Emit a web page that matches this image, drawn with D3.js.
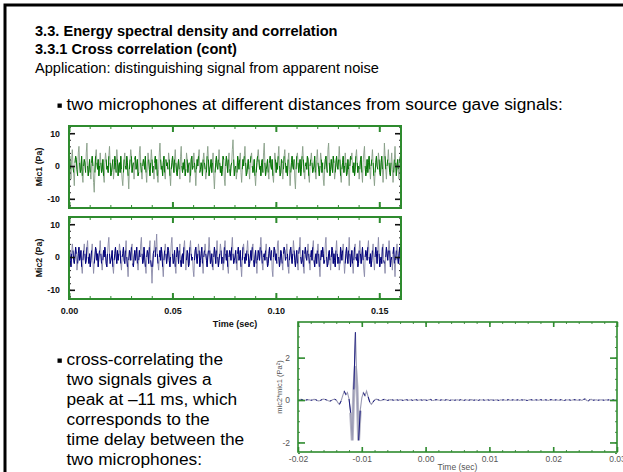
<!DOCTYPE html>
<html><head><meta charset="utf-8">
<script src="https://cdnjs.cloudflare.com/ajax/libs/d3/7.8.5/d3.min.js"></script>
<style>body{margin:0;background:#fff}svg{display:block}</style>
</head><body><svg id="c" width="623" height="472"></svg>
<script>
// ---- data ----
const mic1 = [
1,3,-1,-4,2,5,0,-2,-6,1,3,2,-1,-3,4,6,1,-2,-1,3,-3,-5,0,2,1,
-2,4,7,0,-3,-1,2,-2,-4,1,3,0,-5,-8,-2,3,5,1,-1,2,-3,0,4,1,-2,
-1,2,-3,-5,1,4,2,-1,0,-2,3,6,1,-3,-2,0,2,-4,-1,3,1,-2,5,2,-3,
0,1,-2,3,-1,-4,-6,-2,2,4,0,-1,3,1,-3,-7,-1,2,5,3,-2,0,1,-4,2,
3,-1,0,2,-3,-2,4,6,1,-2,-4,0,2,1,-1,3,-2,-5,0,4,2,-1,-3,1,5,
2,-2,0,-4,1,3,-1,2,-3,-5,-1,4,7,2,-1,0,-3,1,3,-2,-4,2,0,1,-1,
4,2,-3,-6,-1,1,3,0,-2,2,5,1,-2,-3,0,2,-1,-4,3,6,0,-2,1,-1,2,
-3,-1,4,2,-2,0,1,-5,-3,2,3,-1,0,4,1,-2,-6,-1,2,0,3,5,-2,-1,1,
0,-3,2,4,1,-1,-4,-2,3,6,2,-3,-1,0,2,-2,1,4,-3,-7,-2,1,3,0,-1,
2,5,1,-2,0,-3,-1,3,2,-4,-6,0,3,1,-2,2,4,-1,-3,0,1,5,8,2,-3,
-1,0,-4,-2,3,1,-1,2,4,-2,-5,-1,2,0,3,6,1,-3,-2,0,2,-1,-4,1,3,
4,0,-2,-1,2,-3,-6,-2,1,3,5,2,-1,0,-3,1,2,-2,4,7,1,-3,-1,0,2,
-2,-4,1,3,0,-1,2,-3,-5,0,4,2,-2,1,-1,3,6,0,-3,-2,2,1,-4,-1,3,
5,1,-2,0,-3,2,4,-1,-6,-2,1,3,0,-1,2,-4,-7,-1,3,4,1,-2,0,2,-3,
-1,3,6,2,-2,-4,0,1,-1,3,2,-3,-5,0,2,4,1,-2,-1,0,3,-2,-4,2,5,
1,-1,-3,0,4,2,-2,1,-4,-6,-1,2,3,0,-2,5,7,1,-3,-1,2,0,-2,3,1,
-4,-2,1,3,0,-1,2,6,2,-3,-5,-1,1,3,-2,0,4,1,-3,-2,2,-1,-6,0,3,
2,4,0,-2,1,-3,-1,3,5,1,-2,0,-4,-1,2,3,-2,-5,1,4,6,0,-3,-1,2,
-2,1,3,-1,-4,0,2,5,1,-3,-6,-2,1,3,0,-1,4,2,-2,-3,1,3,-1,-5,0,
7,3,-1,-4,0,2,5,1,-2,-3,1,4,-1,-5,-2,2,6,1,-3,0,2,-1,-4,1,3
];
const mic2 = [
0,2,-1,-3,1,4,2,-1,-2,0,3,1,-4,-2,1,3,-1,0,2,-3,-5,-1,2,4,1,
-2,-1,3,5,0,-2,1,-3,-1,2,4,-1,-5,-2,0,3,2,-1,1,-3,0,2,5,1,-2,
-4,-1,2,0,3,1,-2,-3,1,4,6,1,-2,-1,0,2,-3,-5,-1,1,3,0,-2,2,-1,
1,4,2,-2,-4,0,1,3,-1,-2,2,5,0,-3,-6,-1,2,1,-1,3,4,-2,-3,0,2,
-1,1,3,-2,-4,-1,2,0,4,6,1,-2,-1,3,0,-3,-5,0,2,1,-2,3,5,-1,-3,
-8,-3,1,2,5,0,3,7,1,-2,-4,0,2,-1,3,1,-3,-6,-1,2,4,1,-2,0,3,
2,-1,-3,0,4,6,1,-2,-1,2,-3,-5,0,3,1,-2,2,4,-1,-3,0,1,-2,3,5,
0,-4,-1,2,1,-3,-2,3,5,1,-1,0,-4,-6,-1,2,3,0,-2,1,4,2,-3,-1,1,
3,-2,-5,0,2,4,1,-1,-3,0,2,6,2,-2,-1,1,-3,-4,0,3,1,-2,2,5,0,
-3,-1,1,4,2,-2,0,-4,-2,3,5,1,-1,2,-3,-5,0,2,1,-1,3,6,1,-2,-1,
0,2,-2,-4,1,3,-1,0,2,-3,-6,-1,3,4,0,-2,1,-1,2,5,1,-3,-2,0,2,
-1,3,4,-1,-3,0,2,-2,-5,-1,2,1,-1,3,6,2,-2,-4,0,1,-1,2,4,0,-3,
-2,1,3,0,-1,2,-4,-6,0,3,2,-1,1,-2,4,5,0,-3,-1,2,1,-2,-4,1,3,
2,-1,0,4,1,-3,-5,-1,2,3,0,-2,1,5,2,-1,-3,0,2,-2,-4,1,3,6,0,
-2,-1,2,-3,-5,1,3,0,-1,2,4,1,-2,-4,0,2,-1,3,5,-1,-3,0,1,-2,2,
4,1,-3,-6,-1,2,0,3,1,-2,-1,4,6,0,-3,-2,1,2,-1,-4,0,3,2,-2,1,
-1,-3,2,5,1,-2,0,-4,-2,3,1,-1,2,4,-1,-5,-2,1,3,0,-2,2,6,1,-3,
0,2,-2,-5,-1,3,4,0,-1,1,-3,-2,2,5,1,-2,0,3,-1,-4,-6,0,2,1,-1,
3,5,0,-2,1,-3,-1,2,4,-1,-4,0,3,1,-2,2,6,1,-3,-1,0,-2,3,4,-1,
-2,-5,0,3,1,-1,2,5,2,-3,-1,0,-4,1,3,-2,-6,-1,2,4,0,-2,1,3,-2
];
const micSampleInterval = 0.000321;   // seconds between samples
const micTimeMax = 0.1605;
const micXTicks = [0, 0.05, 0.10, 0.15];
const micXTickLabels = ["0.00", "0.05", "0.10", "0.15"];
const micYTicks = [10, 0, -10];
const micYTickLabels = ["10", "0", "-10"];

const corr = [
0,0.02,0.03,0.01,-0.02,0,0.02,0.01,-0.01,0,0.03,0.02,-0.02,-0.04,-0.02,0.02,0.05,0.03,0,-0.03,-0.05,-0.02,0.03,0.04,
0,-0.12,-0.2,-0.05,0.2,0.42,0.25,0.35,0.05,-0.6,-1.9,0.5,3.2,0.6,-1.9,-0.5,0.1,0.35,0.2,0.42,0.15,-0.1,-0.2,-0.1,0,
0.04,0.02,-0.01,-0.03,0.01,0.03,0.01,-0.02,0,0.02,
0.01,-0.01,0,0.01,-0.01,0.02,0,-0.02,0.01,0.02,
-0.01,0,0.01,-0.02,0.01,0.02,-0.01,0,0.01,-0.01,
0.02,0,-0.02,0.01,0.03,-0.01,-0.02,0.01,0.02,0,
-0.01,0.01,0,-0.01,0.02,0.01,-0.02,0,0.01,-0.01,
0,0.01,-0.01,0.02,0,-0.02,0.01,0,-0.01,0.01,
0.02,-0.01,0,0.01,-0.02,0.01,0,0.01,-0.01,0,
0.01,-0.01,0.02,0,-0.01,0.01,0,-0.02,0.01,0,
0.01,-0.01,0,0.02,-0.01,0,0.01,-0.01,0,0.01,
-0.02,0.01,0,0.02,-0.01,-0.02,0.01,0.02,0,-0.01,
0.01,0,-0.01,0.02,0,-0.01,0.01,0,-0.02,0.01,
0.02,-0.01,0,0.01,-0.01,0,0.02,-0.01,-0.02,0.01,
0,0.01,-0.01,0,0.02,0.01,-0.01,0,0.01,-0.02,
0.03,0.05,-0.02,-0.04,0.02,0.03,-0.01,0,0.01,-0.01,
0,0.01,0,-0.01,0.01,0,0.01,-0.01,0,0.01,0,0
];
const corrStart = -0.02, corrStep = 0.00025;
const corrXTicks = [-0.02, -0.01, 0, 0.01, 0.02, 0.03];
const corrXTickLabels = ["-0.02", "-0.01", "0.00", "0.01", "0.02", "0.03"];
const corrYTicks = [2, 0, -2];
const corrYTickLabels = ["2", "0", "-2"];

const headings = ["3.3. Energy spectral density and correlation", "3.3.1 Cross correlation (cont)"];
const introLine = "Application: distinguishing signal from apparent noise";
const bullet1 = "two microphones at different distances from source gave signals:";
const bullet2 = ["cross-correlating the", "two signals gives a", "peak at \u201311 ms, which", "corresponds to the", "time delay between the", "two microphones:"];

// ---- drawing ----
const FONT = "'Liberation Sans', Arial, sans-serif";
const GREEN = "#2e8b2e";
const svg = d3.select("#c").style("font-family", FONT);
svg.append("rect").attr("width", 623).attr("height", 472).attr("fill", "#fff");
svg.append("path").attr("d", "M5,472V5H623").attr("fill", "none").attr("stroke", "#000").attr("stroke-width", 3);

svg.append("text").attr("x", 35).attr("y", 35.5).attr("font-size", 14.6).attr("font-weight", "bold").text(headings[0]);
svg.append("text").attr("x", 35).attr("y", 54).attr("font-size", 14.6).attr("font-weight", "bold").text(headings[1]);
svg.append("text").attr("x", 35).attr("y", 72.5).attr("font-size", 14.6).text(introLine);

svg.append("rect").attr("x", 57.5).attr("y", 103.5).attr("width", 4.3).attr("height", 4.3).attr("fill", "#000");
svg.append("text").attr("x", 66.5).attr("y", 110).attr("font-size", 17.3).text(bullet1);

const b2Top = 365, b2Gap = 20;
svg.append("rect").attr("x", 57.5).attr("y", b2Top - 6.5).attr("width", 4.3).attr("height", 4.3).attr("fill", "#000");
bullet2.forEach((s, i) => {
  svg.append("text").attr("x", 66.5).attr("y", b2Top + i * b2Gap).attr("font-size", 17.3).text(s);
});

// mic charts
const micX = d3.scaleLinear().domain([0, micTimeMax]).range([69, 401]);
function drawMic(data, top, color, gray, label, showXLabels) {
  const h = 82, bottom = top + h;
  const y = d3.scaleLinear().domain([-12.8, 12.2]).range([bottom, top]);
  const g = svg.append("g");
  const cid = "clip" + top;
  g.append("clipPath").attr("id", cid).append("rect")
    .attr("x", micX(0)).attr("y", top).attr("width", micX(micTimeMax) - micX(0)).attr("height", h);
  const pts = data.map((v, i) => [i * micSampleInterval, v]);
  const line = d3.line().x(d => micX(d[0])).y(d => y(d[1]));
  const dg = g.append("g").attr("clip-path", `url(#${cid})`);
  dg.append("path").attr("d", line(pts)).attr("fill", "none").attr("stroke", gray).attr("stroke-width", 0.9);
  dg.append("path").attr("d", line.defined(d => Math.abs(d[1]) <= 3)(pts)).attr("fill", "none").attr("stroke", color).attr("stroke-width", 1);

  const minor = d3.range(0, micTimeMax, 0.01);
  [[d3.axisTop, bottom], [d3.axisBottom, top]].forEach(([ax, yp]) => {
    g.append("g").attr("transform", `translate(0,${yp})`)
      .call(ax(micX).tickValues(minor).tickSize(3).tickFormat(""))
      .call(a => { a.select(".domain").remove(); a.selectAll("line").attr("stroke", GREEN); });
    g.append("g").attr("transform", `translate(0,${yp})`)
      .call(ax(micX).tickValues(micXTicks).tickSize(6).tickFormat(""))
      .call(a => { a.select(".domain").remove(); a.selectAll("line").attr("stroke", GREEN).attr("stroke-width", 2); });
  });
  const yMinor = d3.range(-12, 13, 2);
  [[d3.axisRight, micX(0)], [d3.axisLeft, micX(micTimeMax)]].forEach(([ax, xp]) => {
    g.append("g").attr("transform", `translate(${xp},0)`)
      .call(ax(y).tickValues(yMinor).tickSize(2).tickFormat(""))
      .call(a => { a.select(".domain").remove(); a.selectAll("line").attr("stroke", "#222"); });
    g.append("g").attr("transform", `translate(${xp},0)`)
      .call(ax(y).tickValues(micYTicks).tickSize(6).tickFormat(""))
      .call(a => { a.select(".domain").remove(); a.selectAll("line").attr("stroke", "#111").attr("stroke-width", 1.6); });
  });
  g.append("rect").attr("x", micX(0)).attr("y", top).attr("width", micX(micTimeMax) - micX(0)).attr("height", h)
    .attr("fill", "none").attr("stroke", GREEN).attr("stroke-width", 2);
  g.append("g").attr("transform", `translate(${micX(0) - 6},0)`)
    .call(d3.axisLeft(y).tickValues(micYTicks).tickSize(0).tickFormat((d, i) => micYTickLabels[i]))
    .call(a => { a.select(".domain").remove(); a.selectAll("text").attr("font-family", FONT).attr("font-size", 8.8).attr("font-weight", "bold").attr("fill", "#111"); });
  g.append("text").attr("transform", `translate(42,${(top + bottom) / 2}) rotate(-90)`)
    .attr("text-anchor", "middle").attr("font-size", 8.8).attr("font-weight", "bold").attr("fill", "#111").text(label);
  if (showXLabels) {
    g.append("g").attr("transform", `translate(0,${bottom + 6})`)
      .call(d3.axisBottom(micX).tickValues(micXTicks).tickSize(0).tickFormat((d, i) => micXTickLabels[i]))
      .call(a => { a.select(".domain").remove(); a.selectAll("text").attr("font-family", FONT).attr("font-size", 9).attr("font-weight", "bold").attr("fill", "#111"); });
    g.append("text").attr("x", (micX(0) + micX(micTimeMax)) / 2).attr("y", bottom + 28)
      .attr("text-anchor", "middle").attr("font-size", 9).attr("font-weight", "bold").attr("fill", "#111").text("Time (sec)");
  }
}
drawMic(mic1, 126, "#067806", "#879e87", "Mic1 (Pa)", false);
drawMic(mic2, 217, "#00007c", "#8989a8", "Mic2 (Pa)", true);

// correlation chart
(function () {
  const left = 298, right = 617, top = 322, bottom = 452;
  const x = d3.scaleLinear().domain([-0.02, 0.03]).range([left, right]);
  const y = d3.scaleLinear().domain([-2.45, 3.68]).range([bottom, top]);
  const g = svg.append("g");
  const pts = corr.map((v, i) => [corrStart + i * corrStep, v]);
  const line = d3.line().x(d => x(d[0])).y(d => y(d[1]));
  g.append("path").attr("d", d3.line().x(d => x(d[0])).y(d => y(Math.min(d[1], 1.6))).defined(d => Math.abs(d[1]) > 0.45)(pts))
    .attr("fill", "none").attr("stroke", "#b8b8c8").attr("stroke-width", 3);
  g.append("path").attr("d", line(pts)).attr("fill", "none").attr("stroke", "#9a9ab4").attr("stroke-width", 1.1);
  g.append("path").attr("d", line.defined((d, i) => i % 3 !== 1)(pts)).attr("fill", "none").attr("stroke", "#1a1a80").attr("stroke-width", 1);

  const xMinor = d3.range(-0.02, 0.0301, 0.002);
  [[d3.axisTop, bottom], [d3.axisBottom, top]].forEach(([ax, yp]) => {
    g.append("g").attr("transform", `translate(0,${yp})`)
      .call(ax(x).tickValues(xMinor).tickSize(2).tickFormat(""))
      .call(a => { a.select(".domain").remove(); a.selectAll("line").attr("stroke", "#4a8a4a"); });
    g.append("g").attr("transform", `translate(0,${yp})`)
      .call(ax(x).tickValues(corrXTicks).tickSize(5).tickFormat(""))
      .call(a => { a.select(".domain").remove(); a.selectAll("line").attr("stroke", GREEN).attr("stroke-width", 1.6); });
  });
  const yMinor = d3.range(-2.5, 3.7, 0.5);
  [[d3.axisRight, left], [d3.axisLeft, right]].forEach(([ax, xp]) => {
    g.append("g").attr("transform", `translate(${xp},0)`)
      .call(ax(y).tickValues(yMinor).tickSize(2).tickFormat(""))
      .call(a => { a.select(".domain").remove(); a.selectAll("line").attr("stroke", "#4a8a4a"); });
    g.append("g").attr("transform", `translate(${xp},0)`)
      .call(ax(y).tickValues(corrYTicks).tickSize(7).tickFormat(""))
      .call(a => { a.select(".domain").remove(); a.selectAll("line").attr("stroke", GREEN).attr("stroke-width", 1.6); });
  });
  g.append("rect").attr("x", left).attr("y", top).attr("width", right - left).attr("height", bottom - top)
    .attr("fill", "none").attr("stroke", GREEN).attr("stroke-width", 1.6);
  g.append("g").attr("transform", `translate(${left - 5},0)`)
    .call(d3.axisLeft(y).tickValues(corrYTicks).tickSize(0).tickFormat((d, i) => corrYTickLabels[i]))
    .call(a => { a.select(".domain").remove(); a.selectAll("text").attr("font-family", FONT).attr("font-size", 8.5).attr("fill", "#555"); });
  g.append("g").attr("transform", `translate(0,${bottom + 1})`)
    .call(d3.axisBottom(x).tickValues(corrXTicks).tickSize(0).tickFormat((d, i) => corrXTickLabels[i]))
    .call(a => { a.select(".domain").remove(); a.selectAll("text").attr("font-family", FONT).attr("font-size", 8.5).attr("fill", "#555"); });
  g.append("text").attr("x", (left + right) / 2).attr("y", 470).attr("text-anchor", "middle")
    .attr("font-size", 8.5).attr("fill", "#555").text("Time (sec)");
  g.append("text").attr("transform", `translate(282,${(top + bottom) / 2}) rotate(-90)`)
    .attr("text-anchor", "middle").attr("font-size", 7.5).attr("fill", "#555").text("mic2*mic1 (Pa\u00b2)");
})();
</script></body></html>
